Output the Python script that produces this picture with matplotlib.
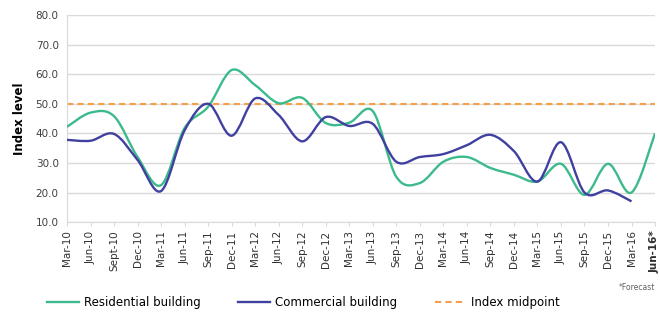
import numpy as np
import matplotlib.pyplot as plt
from matplotlib.path import Path
from matplotlib.patches import PathPatch
from matplotlib.lines import Line2D

# Quarterly index readings
quarters = ["Mar-10", "Jun-10", "Sept-10", "Dec-10", "Mar-11", "Jun-11", "Sep-11", "Dec-11",
            "Mar-12", "Jun-12", "Sep-12", "Dec-12", "Mar-13", "Jun-13", "Sep-13", "Dec-13",
            "Mar-14", "Jun-14", "Sep-14", "Dec-14", "Mar-15", "Jun-15", "Sep-15", "Dec-15",
            "Mar-16", "Jun-16*"]
residential = [42.2, 47.0, 45.8, 32.0, 22.5, 41.8, 49.0, 61.4, 56.3, 50.2, 52.0, 43.5, 43.6,
               47.5, 25.3, 23.2, 30.4, 32.0, 28.3, 26.0, 23.7, 29.7, 19.2, 29.7, 20.0, 40.0]
commercial = [37.8, 37.5, 39.8, 31.0, 20.5, 41.0, 50.0, 39.2, 51.8, 46.2, 37.3, 45.5, 42.5,
              43.2, 30.4, 32.0, 33.0, 36.0, 39.5, 34.0, 23.7, 37.0, 20.0, 20.7, 17.0]
midpoint = 50.0

GREEN = "#3dba8c"
BLUE = "#4040a0"
ORANGE = "#f4a04a"


def smooth_path(y):
    # cubic bezier through every point, like a spreadsheet "smoothed line"
    x = np.arange(len(y), dtype=float)
    y = np.asarray(y, dtype=float)
    pts = np.column_stack([x, y])
    verts = [pts[0]]
    codes = [Path.MOVETO]
    n = len(pts)
    for i in range(n - 1):
        p0 = pts[i - 1] if i > 0 else pts[i]
        p1 = pts[i]
        p2 = pts[i + 1]
        p3 = pts[i + 2] if i + 2 < n else pts[i + 1]
        c1 = p1 + (p2 - p0) / 6.0
        c2 = p2 - (p3 - p1) / 6.0
        verts += [c1, c2, p2]
        codes += [Path.CURVE4] * 3
    return Path(verts, codes)


fig = plt.figure(figsize=(6.6, 3.2), dpi=100)
ax = fig.add_axes([0.1015, 0.306, 0.891, 0.647])

ax.axhline(midpoint, color=ORANGE, lw=1.5, ls=(0, (3, 2)), zorder=2)
ax.add_patch(PathPatch(smooth_path(residential), fill=False, edgecolor=GREEN, lw=1.7, zorder=3))
ax.add_patch(PathPatch(smooth_path(commercial), fill=False, edgecolor=BLUE, lw=1.7, zorder=4))

ax.set_xlim(0, len(quarters) - 1)
ax.set_ylim(10, 80)
ax.set_yticks(np.arange(10, 81, 10))
ax.set_yticklabels(["%.1f" % v for v in np.arange(10, 81, 10)], fontsize=7.5, color="#404040")
ax.set_xticks(np.arange(len(quarters)))
ax.set_xticklabels(quarters, rotation=90, fontsize=7.5, color="#303030")
ax.get_xticklabels()[-1].set_fontweight("bold")
ax.grid(axis="y", color="#dadada", lw=1)
ax.set_axisbelow(True)
for s in ["top", "right"]:
    ax.spines[s].set_visible(False)
ax.spines["left"].set_color("#dadada")
ax.spines["bottom"].set_color("#dadada")
ax.tick_params(axis="y", length=0, pad=6)
ax.tick_params(axis="x", length=3, color="#dadada", pad=3)
ax.set_ylabel("Index level", fontsize=8.5, fontweight="bold", labelpad=7)

handles = [Line2D([], [], color=GREEN, lw=1.7),
           Line2D([], [], color=BLUE, lw=1.7),
           Line2D([], [], color=ORANGE, lw=1.5, ls=(0, (3, 2)))]
fig.legend(handles, ["Residential building", "Commercial building", "Index midpoint"],
           loc="lower left", bbox_to_anchor=(0.055, 0.0), ncol=3, frameon=False,
           fontsize=8.5, handlelength=2.7, handletextpad=0.4, columnspacing=3.2)
fig.text(0.992, 0.095, "*Forecast", fontsize=5.5, color="#606060", ha="right")

fig.savefig("out.png", dpi=100)
